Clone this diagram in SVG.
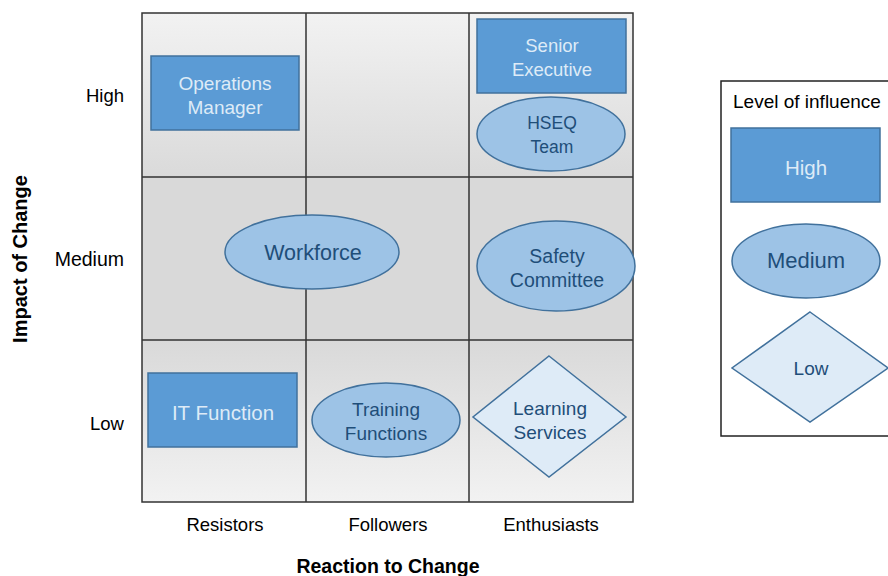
<svg xmlns="http://www.w3.org/2000/svg" width="888" height="576" viewBox="0 0 888 576">
<defs>
<linearGradient id="gTop" x1="0" y1="0" x2="0" y2="1"><stop offset="0" stop-color="#f2f2f2"/><stop offset="1" stop-color="#dadada"/></linearGradient>
<linearGradient id="gBot" x1="0" y1="0" x2="0" y2="1"><stop offset="0" stop-color="#d9d9d9"/><stop offset="1" stop-color="#f2f2f2"/></linearGradient>
</defs>
<style>
text{font-family:"Liberation Sans",Arial,sans-serif;}
.hi{fill:#5b9bd5;stroke:#41719c;stroke-width:1.5;}
.md{fill:#9dc3e6;stroke:#41719c;stroke-width:1.5;}
.lo{fill:#deebf7;stroke:#41719c;stroke-width:1.5;}
.th{fill:#deebf7;font-size:19px;text-anchor:middle;}
.td{fill:#1f4e79;font-size:19px;text-anchor:middle;}
.ax{fill:#000;font-size:18.5px;}
.grid{stroke:#333;stroke-width:1.5;fill:none;}
</style>
<rect width="888" height="576" fill="#fff"/>
<g id="grid">
<rect x="142" y="13" width="491" height="164" fill="url(#gTop)"/>
<rect x="142" y="177" width="491" height="163" fill="#d9d9d9"/>
<rect x="142" y="340" width="491" height="162" fill="url(#gBot)"/>
<path class="grid" d="M142 13H633V502H142Z M306 13V502 M469 13V502 M142 177H633 M142 340H633"/>
</g>
<g id="axis-labels">
<text class="ax" x="124" y="102" text-anchor="end">High</text>
<text class="ax" x="124" y="266" text-anchor="end" style="font-size:19.5px">Medium</text>
<text class="ax" x="124" y="430" text-anchor="end">Low</text>
<text class="ax" x="225" y="531" text-anchor="middle">Resistors</text>
<text class="ax" x="388" y="531" text-anchor="middle">Followers</text>
<text class="ax" x="551" y="531" text-anchor="middle">Enthusiasts</text>
<text x="388" y="573" text-anchor="middle" font-size="19.5" font-weight="bold" fill="#000">Reaction to Change</text>
<text x="0" y="0" transform="translate(27 259) rotate(-90)" text-anchor="middle" font-size="20" font-weight="bold" fill="#000">Impact of Change</text>
</g>
<g id="connectors"/>
<g id="operations-manager">
<rect class="hi" x="151" y="56" width="148" height="74"/>
<text class="th" x="225" y="90">Operations</text>
<text class="th" x="225" y="114">Manager</text>
</g>
<g id="senior-executive">
<rect class="hi" x="477" y="19" width="149" height="74"/>
<text class="th" x="552" y="52" style="font-size:18.5px">Senior</text>
<text class="th" x="552" y="76" style="font-size:18.5px">Executive</text>
</g>
<g id="hseq-team">
<ellipse class="md" cx="551" cy="134" rx="74" ry="37"/>
<text class="td" x="552" y="129" style="font-size:17.5px">HSEQ</text>
<text class="td" x="552" y="153" style="font-size:17.5px">Team</text>
</g>
<g id="workforce">
<ellipse class="md" cx="312" cy="252" rx="87" ry="37"/>
<text class="td" x="313" y="260" style="font-size:21.5px">Workforce</text>
</g>
<g id="safety-committee">
<ellipse class="md" cx="556" cy="266" rx="79" ry="45"/>
<text class="td" x="557" y="263" style="font-size:19.5px">Safety</text>
<text class="td" x="557" y="287" style="font-size:19.5px">Committee</text>
</g>
<g id="it-function">
<rect class="hi" x="148" y="373" width="149" height="74"/>
<text class="th" x="223" y="420" style="font-size:20.5px">IT Function</text>
</g>
<g id="training-functions">
<ellipse class="md" cx="386" cy="420" rx="74" ry="37"/>
<text class="td" x="386" y="416">Training</text>
<text class="td" x="386" y="440">Functions</text>
</g>
<g id="learning-services">
<polygon class="lo" points="549,356 626,417 549,477 473,417"/>
<text class="td" x="550" y="415">Learning</text>
<text class="td" x="550" y="439">Services</text>
</g>
<g id="legend">
<rect x="721" y="81" width="175" height="355" fill="#fff" stroke="#222" stroke-width="1.5"/>
<text x="733" y="108" font-size="19" fill="#000">Level of influence</text>
<g id="legend-high">
<rect class="hi" x="731" y="128" width="149" height="74"/>
<text class="th" x="806" y="175" style="font-size:20.5px">High</text>
</g>
<g id="legend-medium">
<ellipse class="md" cx="806" cy="261" rx="74" ry="37"/>
<text class="td" x="806" y="268" style="font-size:22px">Medium</text>
</g>
<g id="legend-low">
<polygon class="lo" points="810,312 888,368 810,422 732,368"/>
<text class="td" x="811" y="375">Low</text>
</g>
</g>
</svg>
